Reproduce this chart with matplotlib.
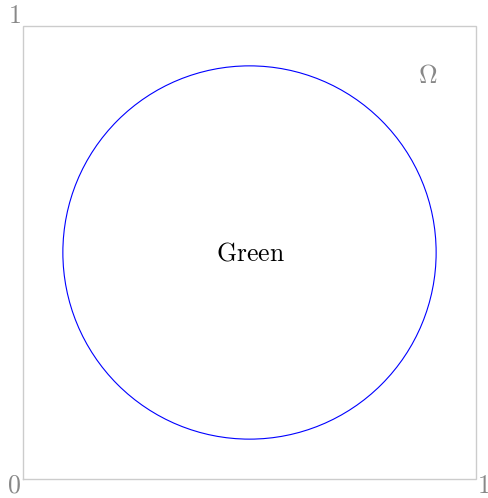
import numpy as np
import matplotlib
matplotlib.use("Agg")
import matplotlib.pyplot as plt
from matplotlib.patches import Circle

plt.rcParams['mathtext.fontset'] = 'cm'

# data
square_x = [0, 1, 1, 0, 0]
square_y = [0, 0, 1, 1, 0]
circle_center = (0.5, 0.5)
circle_radius = 0.412
corner_labels = ["0", "1", "1"]
region_label = "Green"
domain_label = r"\Omega"

fig = plt.figure(figsize=(4.89, 4.98), dpi=100)
ax = fig.add_axes([23/489, (498-479)/498, 453/489, 453/498])
ax.set_xlim(0, 1)
ax.set_ylim(0, 1)
ax.axis('off')

ax.plot(square_x, square_y, color='#cccccc', lw=1.0, clip_on=False,
        solid_joinstyle='miter')
ax.add_patch(Circle(circle_center, circle_radius, fill=False,
                    edgecolor='blue', lw=0.8))

gray = '#888888'
fs = 18.5
ax.text(-0.02, -0.015, f"${corner_labels[0]}$", color=gray, fontsize=fs, ha='center', va='center')
ax.text(-0.018, 1.022, f"${corner_labels[1]}$", color=gray, fontsize=fs, ha='center', va='center')
ax.text(1.017, -0.015, f"${corner_labels[2]}$", color=gray, fontsize=fs, ha='center', va='center')
ax.text(0.501, 0.497, r"$\mathrm{" + region_label + "}$", color='black', fontsize=fs, ha='center', va='center')
ax.text(0.894, 0.89, f"${domain_label}$", color=gray, fontsize=fs, ha='center', va='center')

fig.savefig("out.png", dpi=100)
